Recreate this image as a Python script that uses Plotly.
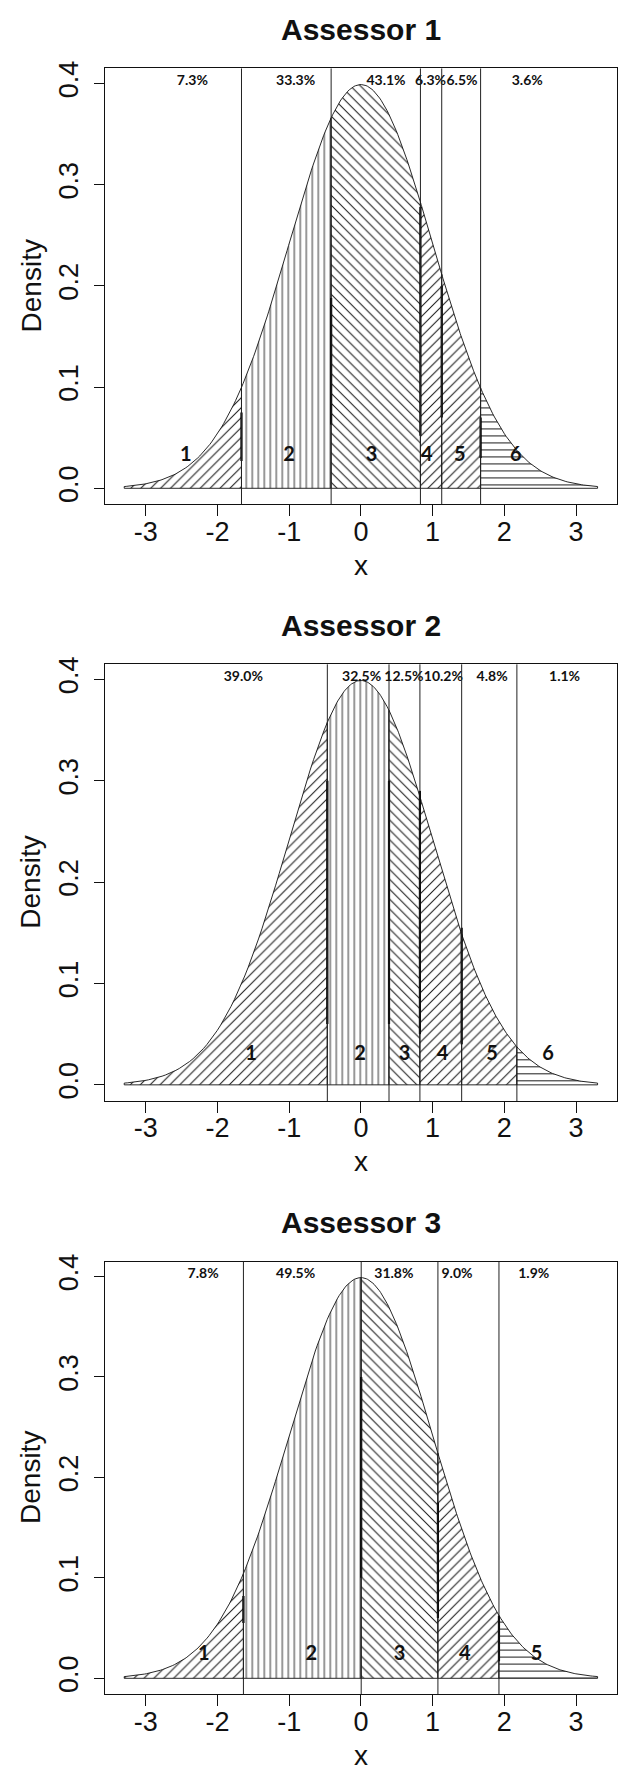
import numpy as np
import plotly.graph_objects as go

W, H = 621, 1767

# ---------------- data ----------------
titles = ["Assessor 1", "Assessor 2", "Assessor 3"]

cuts_a1 = [-1.665, -0.415, 0.830, 1.127, 1.669]
cuts_a2 = [-0.468, 0.392, 0.823, 1.405, 2.175]
cuts_a3 = [-1.638, 0.004, 1.074, 1.925]

pct_a1 = ["7.3%", "33.3%", "43.1%", "6.3%", "6.5%", "3.6%"]
pct_a2 = ["39.0%", "32.5%", "12.5%", "10.2%", "4.8%", "1.1%"]
pct_a3 = ["7.8%", "49.5%", "31.8%", "9.0%", "1.9%"]

pct_x_a1 = [-2.35, -0.91, 0.35, 0.97, 1.41, 2.32]
pct_x_a2 = [-1.64, 0.01, 0.60, 1.15, 1.83, 2.84]
pct_x_a3 = [-2.20, -0.91, 0.46, 1.34, 2.41]
pct_y = 0.402

cat_a1 = ["1", "2", "3", "4", "5", "6"]
cat_a2 = ["1", "2", "3", "4", "5", "6"]
cat_a3 = ["1", "2", "3", "4", "5"]
cat_x_a1 = [-2.44, -1.00, 0.15, 0.92, 1.38, 2.16]
cat_x_a2 = [-1.53, -0.01, 0.61, 1.14, 1.83, 2.61]
cat_x_a3 = [-2.19, -0.69, 0.54, 1.45, 2.45]
cat_y = [0.032, 0.029, 0.023]

hatch_a1 = ["/", "|", "\\", "/", "/", "-"]
hatch_a2 = ["/", "|", "\\", "/", "/", "-"]
hatch_a3 = ["/", "|", "\\", "/", "-"]

# heavy edge strokes along the cut lines (low, high density value; None = absent)
edge_lo_a1 = [0.027, 0.063, 0.052, 0.070, 0.030]
edge_hi_a1 = [0.075, 0.188, 0.278, 0.200, 0.070]
edge_lo_a2 = [0.060, 0.060, 0.050, 0.040, None]
edge_hi_a2 = [0.300, 0.300, 0.290, 0.155, None]
edge_lo_a3 = [0.055, 0.100, 0.060, 0.017]
edge_hi_a3 = [0.082, 0.300, 0.175, 0.062]

x_lo, x_hi = -3.3, 3.3
x_ticks = [-3, -2, -1, 0, 1, 2, 3]
x_ticklabels = ["-3", "-2", "-1", "0", "1", "2", "3"]
y_ticks = [0.0, 0.1, 0.2, 0.3, 0.4]
y_ticklabels = ["0.0", "0.1", "0.2", "0.3", "0.4"]

# ---------------- layout geometry (pixels) ----------------
plot_left, plot_right = 105.3, 616.5
panel_tops = [60.7, 659.3, 1259.3]
panel_bottoms = [498.7, 1098.0, 1694.0]

cuts = [cuts_a1, cuts_a2, cuts_a3]
pcts = [pct_a1, pct_a2, pct_a3]
pct_xs = [pct_x_a1, pct_x_a2, pct_x_a3]
cats = [cat_a1, cat_a2, cat_a3]
cat_xs = [cat_x_a1, cat_x_a2, cat_x_a3]
hatches = [hatch_a1, hatch_a2, hatch_a3]
edge_los = [edge_lo_a1, edge_lo_a2, edge_lo_a3]
edge_his = [edge_hi_a1, edge_hi_a2, edge_hi_a3]


def dnorm(x):
    return np.exp(-0.5 * x ** 2) / np.sqrt(2 * np.pi)


AX_FONT = "Liberation Sans, Arial, Helvetica, sans-serif"
LBL_FONT = "Lato, Open Sans, sans-serif"
INK = "#111111"

fig = go.Figure()
shapes = []
annotations = []

for p in range(3):
    k = p + 1
    xa = "x" if k == 1 else f"x{k}"
    ya = "y" if k == 1 else f"y{k}"
    bounds = [x_lo] + cuts[p] + [x_hi]
    for r in range(len(bounds) - 1):
        lo, hi = bounds[r], bounds[r + 1]
        g = np.linspace(lo, hi, 60)
        xs = np.concatenate([[lo], g, [hi, lo]])
        ys = np.concatenate([[0.0], dnorm(g), [0.0, 0.0]])
        shp = hatches[p][r]
        size = 6 if shp == "|" else 7
        fig.add_trace(go.Scatter(
            x=xs, y=ys, mode="lines", fill="toself",
            fillcolor="white",
            fillpattern=dict(shape=shp, size=size, solidity=0.15,
                             fgcolor="#1a1a1a", bgcolor="white",
                             fillmode="replace"),
            line=dict(color=INK, width=0.9),
            xaxis=xa, yaxis=ya, showlegend=False, hoverinfo="skip"))
    # heavy edge strokes
    ex, ey = [], []
    for c, lo_v, hi_v in zip(cuts[p], edge_los[p], edge_his[p]):
        if lo_v is None:
            continue
        ex += [c, c, None]
        ey += [lo_v, hi_v, None]
    fig.add_trace(go.Scatter(x=ex, y=ey, mode="lines",
                             line=dict(color="#000000", width=2.2),
                             xaxis=xa, yaxis=ya, showlegend=False,
                             hoverinfo="skip"))
    # cut lines across whole plot
    for c in cuts[p]:
        shapes.append(dict(type="line", xref=xa, yref=f"{ya} domain",
                           x0=c, x1=c, y0=0, y1=1,
                           line=dict(color="#222222", width=1)))
    # percentage labels
    fig.add_trace(go.Scatter(
        x=pct_xs[p], y=[pct_y] * len(pcts[p]), mode="text", text=pcts[p],
        textposition="middle center",
        textfont=dict(family=LBL_FONT, size=14, color=INK, weight="bold"),
        xaxis=xa, yaxis=ya, showlegend=False, hoverinfo="skip"))
    # category labels
    fig.add_trace(go.Scatter(
        x=cat_xs[p], y=[cat_y[p]] * len(cats[p]), mode="text", text=cats[p],
        textposition="middle center",
        textfont=dict(family=LBL_FONT, size=20, color=INK, weight="bold"),
        xaxis=xa, yaxis=ya, showlegend=False, hoverinfo="skip"))

    top, bot = panel_tops[p], panel_bottoms[p]
    dom_y = [1 - bot / H, 1 - top / H]
    dom_x = [plot_left / W, plot_right / W]
    axis_common = dict(showline=True, mirror=True, linecolor=INK,
                       linewidth=1, showgrid=False, zeroline=False,
                       ticks="outside", tickwidth=1, tickcolor=INK,
                       tickfont=dict(family=AX_FONT, size=27, color=INK))
    fig.update_layout(**{
        ("xaxis" if k == 1 else f"xaxis{k}"): dict(
            domain=dom_x, range=[-3.564, 3.564], anchor=ya,
            tickvals=x_ticks, ticktext=x_ticklabels, ticklen=11,
            ticklabelstandoff=-8, **axis_common),
        ("yaxis" if k == 1 else f"yaxis{k}"): dict(
            domain=dom_y, range=[-0.01596, 0.41489], anchor=xa,
            tickvals=y_ticks, ticktext=y_ticklabels, ticklen=10,
            tickangle=-90, ticklabelstandoff=6, **axis_common),
    })
    # titles
    annotations.append(dict(text=f"<b>{titles[p]}</b>", xref="paper", yref="paper",
                            x=(plot_left + plot_right) / 2 / W,
                            y=1 - (top - 39) / H, xanchor="center", yanchor="middle",
                            showarrow=False,
                            font=dict(family=AX_FONT, size=30, color=INK)))
    annotations.append(dict(text="Density", xref="paper", yref="paper",
                            x=31 / W, y=1 - ((top + bot) / 2) / H,
                            xanchor="center", yanchor="middle", textangle=-90,
                            showarrow=False,
                            font=dict(family=AX_FONT, size=28, color=INK)))
    annotations.append(dict(text="x", xref="paper", yref="paper",
                            x=(plot_left + plot_right) / 2 / W,
                            y=1 - (bot + 61) / H, xanchor="center", yanchor="middle",
                            showarrow=False,
                            font=dict(family=AX_FONT, size=28, color=INK)))

fig.update_layout(width=W, height=H, margin=dict(l=0, r=0, t=0, b=0),
                  paper_bgcolor="white", plot_bgcolor="white",
                  shapes=shapes, annotations=annotations,
                  font=dict(family=AX_FONT))

fig.write_html("out.html",
               config={"displayModeBar": False},
               post_script="document.body.style.margin='0';document.body.style.padding='0';")
